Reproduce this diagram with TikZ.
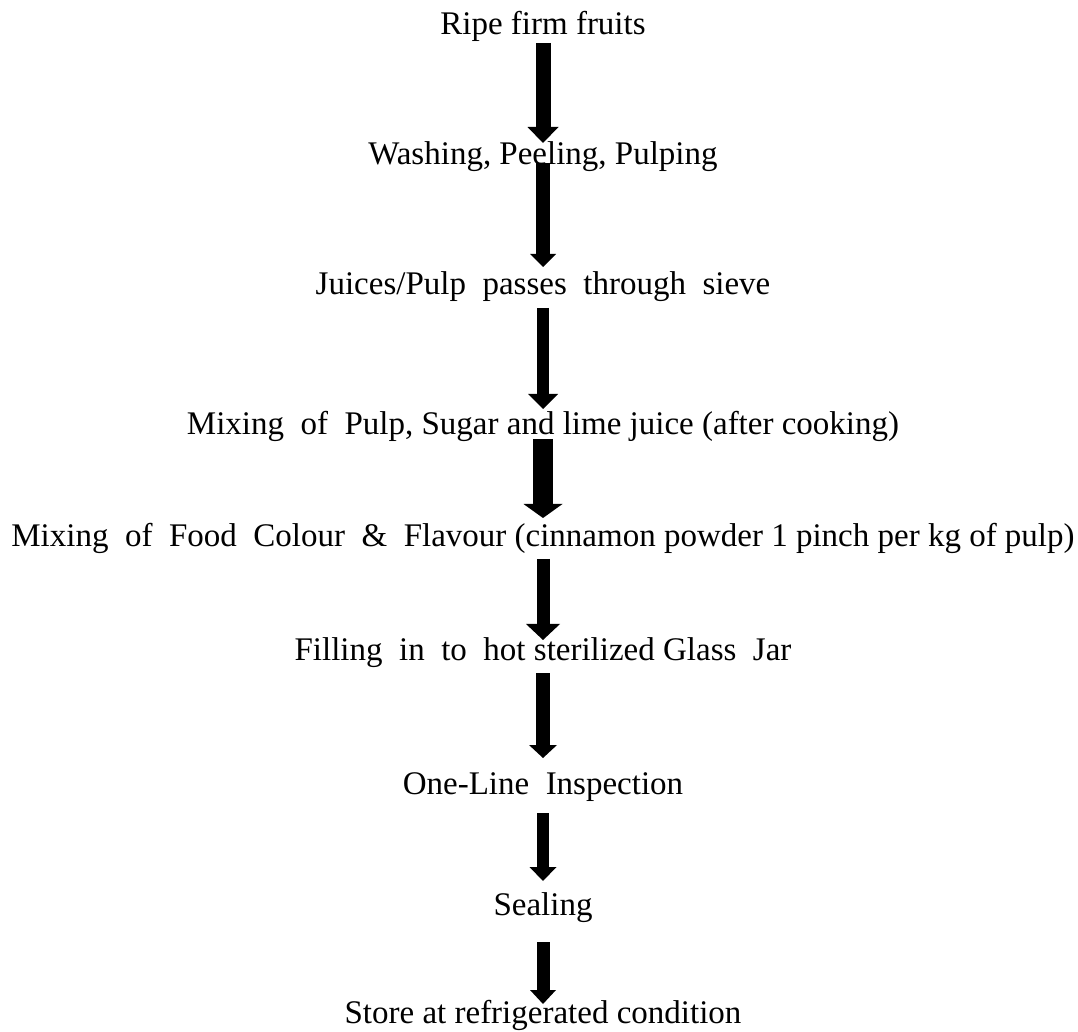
\documentclass[tikz,border=0pt]{standalone}
\usepackage{fontspec}
\setmainfont{Liberation Serif}
\usetikzlibrary{arrows.meta}
\tikzset{
  every node/.style={font=\fontsize{16.5}{19}\selectfont},
  % --- nodes
  stage/.style = {anchor=base, inner sep=0pt, text=black},
  % --- edges
  flow/.style  = {draw=black},
}
\begin{document}
\begin{tikzpicture}[x=0.5pt, y=-0.5pt]
  \useasboundingbox (0,0) rectangle (1078,1032);

  \node[stage] (s1) at (543,35)   {Ripe firm fruits};
  \node[stage] (s2) at (543,165)  {Washing, Peeling, Pulping};
  \node[stage] (s3) at (543,295)  {Juices/Pulp~ passes~ through~ sieve};
  \node[stage] (s4) at (543,435)  {Mixing~ of~ Pulp, Sugar and lime juice (after cooking)};
  \node[stage] (s5) at (543,547)  {Mixing~ of~ Food~ Colour~ \&~ Flavour (cinnamon powder 1 pinch per kg of pulp)};
  \node[stage] (s6) at (543,661)  {Filling~ in~ to~ hot sterilized Glass~ Jar};
  \node[stage] (s7) at (543,794)  {One-Line~ Inspection};
  \node[stage] (s8) at (543,915)  {Sealing};
  \node[stage] (s9) at (543,1023) {Store at refrigerated condition};

  % fat arrows between the stages (start/end trim, shaft, head width, head length)
  \foreach \a/\b/\s/\e/\w/\hw/\hl in {
      s1/s2/4/11/7.5/15.5/8,  s2/s3/-1/14/7/13/6.5,
      s3/s4/6.5/13/6/15/7.5,  s4/s5/2/14.5/10/19.5/7,
      s5/s6/6/10.5/6.5/17/8,  s6/s7/6/18/7/14/6.5,
      s7/s8/9.5/17/6/13.5/7,  s8/s9/13.5/9.5/6.5/13/7}
    \draw[flow, line width=\w pt, shorten <=\s pt, shorten >=\e pt,
          -{Triangle[width=\hw pt, length=\hl pt, line width=0pt]}]
      (\a.base) -- (\b.base);
\end{tikzpicture}
\end{document}
